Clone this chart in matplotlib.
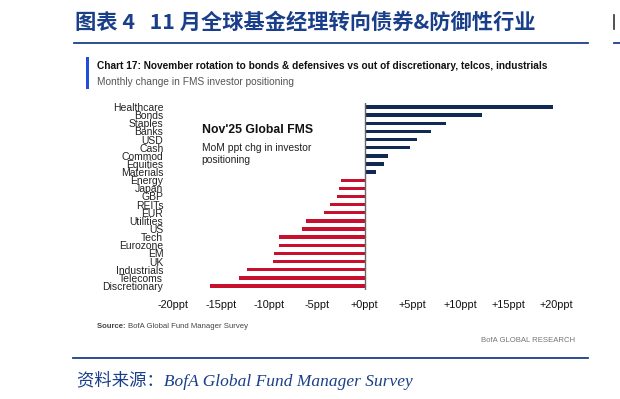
import numpy as np
import matplotlib.pyplot as plt
from matplotlib.lines import Line2D
from matplotlib.patches import Rectangle

# Categories top to bottom and their MoM change (ppt)
categories = ['Healthcare', 'Bonds', 'Staples', 'Banks', 'USD', 'Cash', 'Commod',
              'Equities', 'Materials', 'Energy', 'Japan', 'GBP', 'REITs', 'EUR',
              'Utilities', 'US', 'Tech', 'Eurozone', 'EM', 'UK', 'Industrials',
              'Telecoms', 'Discretionary']
values = [19.7, 12.3, 8.5, 6.9, 5.5, 4.8, 2.5, 2.0, 1.2, -2.5, -2.7, -2.9, -3.6, -4.2,
          -6.1, -6.5, -8.9, -8.9, -9.4, -9.6, -12.3, -13.1, -16.1]
xticks = [-20, -15, -10, -5, 0, 5, 10, 15, 20]
xtick_labels = ['-20ppt', '-15ppt', '-10ppt', '-5ppt', '+0ppt', '+5ppt', '+10ppt', '+15ppt', '+20ppt']

W, H = 620, 399
fig = plt.figure(figsize=(W / 100, H / 100), dpi=100)
plt.rcParams['font.family'] = ['Liberation Sans', 'Noto Sans CJK SC']

navy = '#102a54'
red = '#c8102e'
blue_txt = '#1a3f8a'

def fx(px):
    return px / W

def fy(py):
    return 1 - py / H

# header
fig.text(fx(75), fy(22), '图表 4   11 月全球基金经理转向债券&防御性行业', family=['Noto Sans CJK SC'],
         fontsize=15.3, fontweight='bold', color=blue_txt, va='center', ha='left')
fig.add_artist(Line2D([fx(74), fx(588)], [fy(43), fy(43)], color=blue_txt, lw=1.3))
fig.add_artist(Line2D([fx(614), fx(620)], [fy(43), fy(43)], color=blue_txt, lw=1.3))
fig.add_artist(Line2D([fx(614), fx(614)], [fy(15), fy(29)], color='#333333', lw=1.2))

# chart 17 header
fig.add_artist(Rectangle((fx(86), fy(89)), 3 / W, 32 / H, color='#1f4fd8', lw=0))
fig.text(fx(97), fy(66), 'Chart 17: November rotation to bonds & defensives vs out of discretionary, telcos, industrials',
         fontsize=7.3, fontweight='bold', color='#111111', va='center', ha='left')
fig.text(fx(97), fy(82), 'Monthly change in FMS investor positioning',
         fontsize=7.3, color='#555555', va='center', ha='left')

# bars
ax = fig.add_axes([fx(173), fy(290), 383 / W, 187 / H])
y = np.arange(len(categories))
colors = [navy if v > 0 else red for v in values]
ax.barh(y, values, height=0.42, color=colors)
ax.axvline(0, color='#666666', lw=1.0)
ax.set_xlim(-20, 20)
ax.set_ylim(len(categories) - 0.5, -0.5)
ax.set_yticks(y)
ax.set_yticklabels(categories, fontsize=7.5, color='#222222')
ax.set_xticks(xticks)
ax.set_xticklabels(xtick_labels, fontsize=7.8, color='#111111')
ax.tick_params(axis='y', length=0, pad=7)
ax.tick_params(axis='x', length=0, pad=7)
for s in ax.spines.values():
    s.set_visible(False)

ax.text(0.075, 0.855, "Nov'25 Global FMS", transform=ax.transAxes, fontsize=8.8,
        fontweight='bold', color='#111111', va='center')
ax.text(0.075, 0.785, 'MoM ppt chg in investor\npositioning', transform=ax.transAxes,
        fontsize=7.4, color='#222222', va='top', linespacing=1.25)

# sources
src = fig.text(fx(97), fy(327), 'Source: ', fontsize=5.6, fontweight='bold', color='#444444', va='center')
renderer = fig.canvas.get_renderer()
bb = src.get_window_extent(renderer)
fig.text(bb.x1 / W, fy(327), 'BofA Global Fund Manager Survey', fontsize=5.6, color='#444444', va='center')
fig.text(fx(575), fy(341), 'BofA GLOBAL RESEARCH', fontsize=5.6, color='#777777', va='center', ha='right')

fig.add_artist(Line2D([fx(73), fx(588)], [fy(358), fy(358)], color=blue_txt, lw=1.3))
fig.text(fx(77), fy(380), '资料来源：BofA Global Fund Manager Survey',
         family=['Liberation Serif', 'Noto Sans CJK SC'], style='italic',
         fontsize=12.5, color=blue_txt, va='center', ha='left')

fig.savefig('out.png', dpi=100)
